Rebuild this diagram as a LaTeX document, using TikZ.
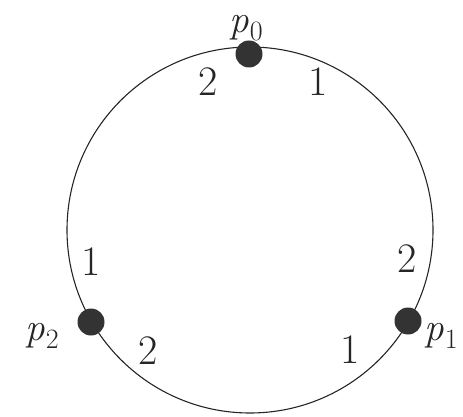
\documentclass[tikz,border=0pt]{standalone}
\newcommand{\pname}[1]{\textit{p}\kern1pt\raisebox{-0.22em}{\fontsize{28}{32}\selectfont #1}}
\begin{document}
\begin{tikzpicture}[x=1pt,y=-1pt,
  ring/.style={draw=black!85, line width=1.1pt},
  proc/.style={circle, fill=black!80, minimum size=27pt, inner sep=0pt},
  lbl/.style={text=black!85, font=\fontsize{39}{46}\selectfont, inner sep=0pt},
  num/.style={text=black!85, font=\fontsize{42}{50}\selectfont, inner sep=0pt}]
\useasboundingbox (0,0) rectangle (463,417);
\clip (0,0) rectangle (463,417);
\coordinate (c) at (250,230);
\draw[ring] (c) circle[radius=183];
\node[proc] (P0) at (249,54) {};
\node[proc] (P1) at (408,321) {};
\node[proc] (P2) at (91,322) {};
\node[lbl] (L0) at (246,28) {\pname{0}};
\node[lbl] (L1) at (441,336) {\pname{1}};
\node[lbl] (L2) at (42,336) {\pname{2}};
\node[num] (a) at (208,82) {2};
\node[num] (b) at (318,82) {1};
\node[num] (d) at (407,259) {2};
\node[num] (e) at (350,350) {1};
\node[num] (f) at (148,351) {2};
\node[num] (g) at (91,262) {1};
\end{tikzpicture}
\end{document}
